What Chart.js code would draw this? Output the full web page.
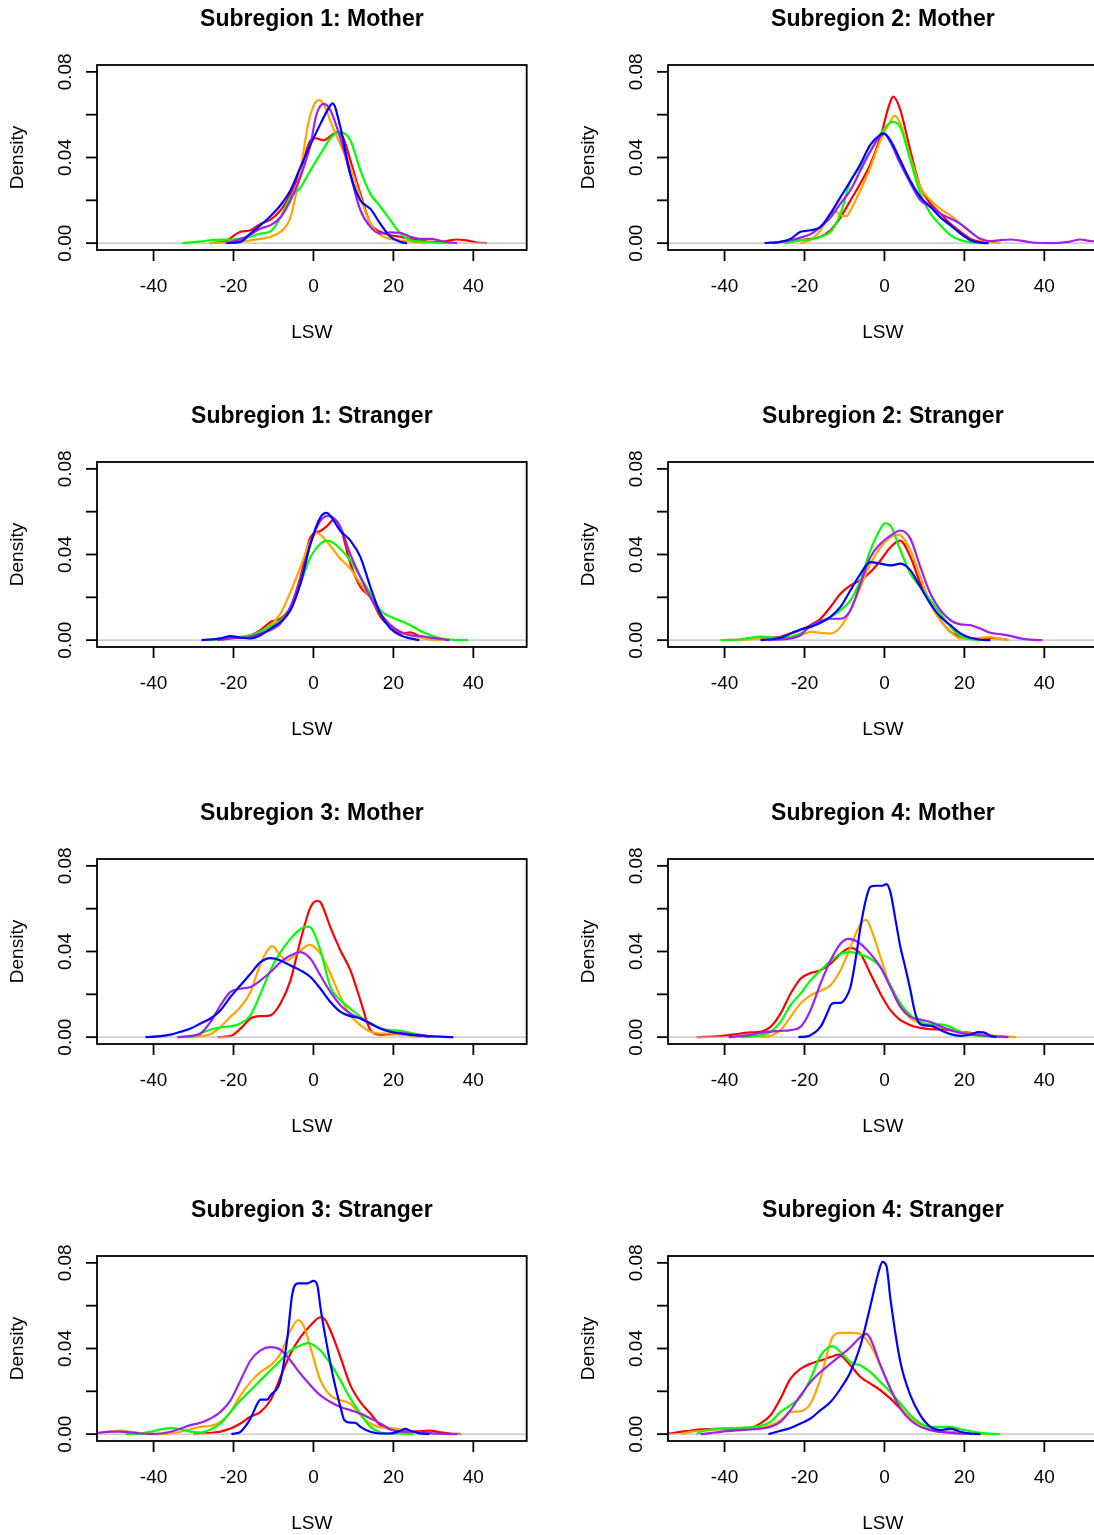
<!DOCTYPE html>
<html lang="en">
<head>
<meta charset="UTF-8">
<script src="https://cdn.jsdelivr.net/npm/chart.js"></script>
<title>LSW densities by subregion</title>
<style>
  body { margin: 0; background: #fff; }
  #page { position: relative; width: 1094px; height: 1535px; overflow: hidden; background: #fff; }
  #page canvas { position: absolute; }
</style>
</head>
<body>
<div id="page"></div>
<script>
// panel titles, row by row (left, right)
const panelTitles = [
    'Subregion 1: Mother', 'Subregion 2: Mother',
    'Subregion 1: Stranger', 'Subregion 2: Stranger',
    'Subregion 3: Mother', 'Subregion 4: Mother',
    'Subregion 3: Stranger', 'Subregion 4: Stranger'
];
const seriesNames = ['red', 'orange', 'green', 'purple', 'blue'];
const seriesColors = ['#FF0000', '#FFA500', '#00FF00', '#A020F0', '#0000FF'];
const xTicks = [-40, -20, 0, 20, 40];
const yTicks = [0, 0.02, 0.04, 0.06, 0.08];
const yTickLabels = ['0.00', '', '0.04', '', '0.08'];
const xLimits = [-54.15, 53.35];
const yLimits = [-0.0032, 0.0832];

// density curves, [LSW, density] pairs

// Subregion 1: Mother
const s1mRed = [[-25.7,0],[-22,0.001],[-18.25,0.0053],[-15.75,0.006],[-13.25,0.009],[-10.75,0.011],[-8.25,0.0153],[-5.75,0.023],[-3.25,0.034],[-0.75,0.048],[0.5,0.049],[2.5,0.048],[4.25,0.050],[6,0.052],[7.5,0.049],[9.25,0.0386],[11.75,0.023],[14.25,0.009],[16.75,0.0053],[19.25,0.0037],[21.75,0.003],[24.25,0.002],[27,0.0012],[30,0.0006],[33,0.0009],[35.9,0.0017],[38.5,0.0012],[41,0.0003],[43.4,0]];
const s1mOrange = [[-26,0],[-20,0.0005],[-15,0.0015],[-10.75,0.003],[-8.25,0.0053],[-5.75,0.012],[-3.25,0.034],[-1.5,0.054],[-0.75,0.060],[0.5,0.0657],[1.6,0.0668],[3,0.063],[4.25,0.057],[6.75,0.046],[9.25,0.0355],[11.75,0.0215],[14.25,0.009],[16.75,0.0037],[19.25,0.002],[24,0.0008],[28,0]];
const s1mGreen = [[-32.8,0],[-28,0.0008],[-25,0.0015],[-20,0.0018],[-15.75,0.003],[-13.25,0.0045],[-10.75,0.0055],[-8.25,0.012],[-5.75,0.0215],[-3.25,0.026],[-0.75,0.034],[1.75,0.0417],[4.25,0.049],[6.3,0.052],[7.5,0.0515],[9.25,0.048],[11.75,0.034],[14.25,0.023],[16.75,0.017],[19.25,0.0107],[21.75,0.0045],[24.25,0.0014],[26.75,0.0008],[30,0.0004],[35,0]];
const s1mPurple = [[-22,0],[-18,0.002],[-15.75,0.004],[-13.25,0.0068],[-10.75,0.0084],[-8.25,0.012],[-5.75,0.020],[-3.25,0.031],[-0.75,0.046],[0.75,0.060],[2.6,0.065],[4.25,0.062],[6.75,0.049],[9.25,0.032],[11.75,0.0153],[14.25,0.0076],[16.75,0.0045],[19.25,0.005],[21.75,0.0048],[24.25,0.003],[26.75,0.002],[29.25,0.002],[32,0.001],[35.9,0]];
const s1mBlue = [[-21.6,0],[-18.25,0.0006],[-15.75,0.0045],[-13.25,0.0084],[-10.75,0.0126],[-8.25,0.0177],[-5.75,0.0247],[-3.25,0.0355],[-0.75,0.046],[1.75,0.0557],[3.5,0.062],[4.8,0.0653],[6.75,0.054],[9.25,0.032],[11.75,0.020],[14.25,0.016],[16.75,0.009],[19.25,0.003],[21.75,0.0006],[23.4,0]];

// Subregion 2: Mother
const s2mRed = [[-25,0],[-21,0.0014],[-18.5,0.002],[-16,0.003],[-13.5,0.006],[-11,0.012],[-8.5,0.020],[-6,0.028],[-3.5,0.037],[-1,0.0495],[1,0.0634],[2.2,0.0684],[4,0.062],[6.5,0.043],[9,0.026],[11.5,0.0185],[14,0.0138],[16.5,0.009],[19,0.0053],[21.5,0.002],[24,0.0006],[26,0]];
const s2mOrange = [[-21,0],[-18.5,0.0014],[-16,0.006],[-13.5,0.0138],[-12,0.0146],[-11,0.013],[-9.5,0.0126],[-8.5,0.0153],[-6,0.0247],[-3.5,0.0355],[-1,0.048],[1.5,0.057],[2.5,0.0595],[4,0.0557],[6.5,0.040],[9,0.026],[11.5,0.020],[14,0.016],[16.5,0.013],[19,0.009],[21.5,0.0053],[24,0.0019],[26.5,0.0006],[29,0]];
const s2mGreen = [[-25,0],[-21,0.0014],[-18.5,0.0017],[-16,0.003],[-13.5,0.0053],[-11,0.0138],[-8.5,0.029],[-6,0.0355],[-3.5,0.043],[-1,0.051],[1.5,0.0564],[2,0.0566],[4,0.054],[6.5,0.0386],[9,0.023],[11.5,0.0138],[14,0.0084],[16.5,0.0037],[19,0.0014],[21.5,0.0004],[24,0]];
const s2mPurple = [[-28,0],[-23.5,0.0014],[-21,0.0026],[-18.5,0.0042],[-16,0.0076],[-13.5,0.012],[-11,0.0185],[-8.5,0.0247],[-6,0.034],[-3.5,0.043],[-1,0.050],[0,0.051],[1.5,0.047],[4,0.037],[6.5,0.028],[9,0.020],[11.5,0.017],[14,0.0138],[16.5,0.0115],[19,0.009],[21.5,0.0053],[24,0.002],[26.5,0.0009],[29,0.0014],[31.5,0.0017],[34,0.0012],[37,0.0003],[42,0],[46,0.0006],[49,0.0017],[51.5,0.001],[56,0.0003]];
const s2mBlue = [[-30,0],[-28.5,0.0002],[-26,0.0006],[-23.5,0.002],[-21,0.0053],[-18.5,0.006],[-16,0.0076],[-13.5,0.0138],[-11,0.0215],[-8.5,0.029],[-6,0.037],[-3.5,0.046],[-1,0.0507],[-0.2,0.0513],[1.5,0.048],[4,0.0386],[6.5,0.029],[9,0.0215],[11.5,0.017],[14,0.012],[16.5,0.0084],[19,0.0045],[21.5,0.0014],[24,0.0002],[26,0]];

// Subregion 1: Stranger
const s1sRed = [[-24,0],[-20.75,0.0011],[-15.75,0.0023],[-13.25,0.0047],[-10.75,0.0085],[-8.25,0.010],[-5.75,0.0155],[-3.25,0.0295],[-0.75,0.048],[1.75,0.051],[3.5,0.0535],[5.1,0.0563],[6.75,0.0527],[9.25,0.0357],[11.75,0.0248],[14.25,0.020],[16.75,0.0109],[19.25,0.0062],[21.75,0.0031],[24.25,0.0036],[26.75,0.0016],[29.25,0.0003],[31,0]];
const s1sOrange = [[-27,0],[-20.75,0.0008],[-15.75,0.0023],[-13.25,0.0039],[-10.75,0.007],[-8.25,0.0124],[-5.75,0.0225],[-3.25,0.0341],[-0.75,0.0465],[0.9,0.050],[3.5,0.0457],[6.75,0.038],[9.25,0.0333],[11.75,0.0264],[14.25,0.020],[16.75,0.0124],[19.25,0.007],[21.75,0.0039],[24.25,0.0023],[26.75,0.0012],[29.25,0.0005],[32,0]];
const s1sGreen = [[-26,0],[-20.75,0.0008],[-15.75,0.0023],[-13.25,0.0039],[-10.75,0.0065],[-8.25,0.0093],[-5.75,0.0147],[-3.25,0.0264],[-0.75,0.0388],[1.75,0.045],[3.3,0.0465],[4.25,0.0462],[6.75,0.0426],[9.25,0.0372],[11.75,0.0295],[14.25,0.0217],[16.75,0.014],[19.25,0.0109],[21.75,0.009],[24.25,0.007],[26.75,0.0043],[29.25,0.0023],[31.75,0.0009],[34.25,0.0003],[38.7,0]];
const s1sPurple = [[-24,0],[-20.75,0.0008],[-15.75,0.0016],[-13.25,0.0031],[-10.75,0.0047],[-8.25,0.0078],[-5.75,0.0155],[-3.25,0.028],[-0.75,0.045],[1.75,0.0558],[3.8,0.058],[6.75,0.0527],[9.25,0.040],[11.75,0.0295],[14.25,0.020],[16.75,0.0124],[19.25,0.007],[21.75,0.0039],[24.25,0.0023],[26.75,0.0019],[29.25,0.0012],[32,0.0005],[34,0]];
const s1sBlue = [[-28,0],[-23.25,0.0008],[-20.75,0.0019],[-18.25,0.0012],[-15.75,0.0008],[-13.25,0.0023],[-10.75,0.0054],[-8.25,0.0085],[-5.75,0.014],[-3.25,0.0264],[-0.75,0.045],[1.75,0.0574],[3.3,0.0594],[4.25,0.058],[6.75,0.051],[9.25,0.0465],[11.75,0.0388],[14.25,0.0248],[16.75,0.0124],[19.25,0.0054],[21.75,0.0023],[24.25,0.0008],[26.5,0]];

// Subregion 2: Stranger
const s2sRed = [[-40,0],[-36,0.0003],[-31,0.0011],[-26,0.0016],[-23.5,0.0031],[-21,0.0047],[-18.5,0.007],[-16,0.010],[-13.5,0.0155],[-11,0.0217],[-8.5,0.0256],[-6,0.028],[-3.5,0.0318],[-1,0.0372],[1.5,0.0434],[3.9,0.0465],[6.5,0.0388],[9,0.0264],[11.5,0.017],[14,0.0093],[16.5,0.0039],[19,0.0016],[21.5,0.0006],[24,0.0006],[26,0.0011],[29,0.0006],[31,0]];
const s2sOrange = [[-37,0],[-31,0.0008],[-26,0.0012],[-21,0.0023],[-18.5,0.0039],[-16,0.0034],[-13.5,0.0031],[-11,0.0062],[-8.5,0.014],[-6,0.0248],[-3.5,0.0357],[-1,0.0434],[1.5,0.048],[3.5,0.0493],[6.5,0.042],[9,0.0295],[11.5,0.017],[14,0.0093],[16.5,0.0039],[19,0.0008],[21.5,0.0006],[24,0.0011],[26.5,0.0014],[29,0.0006],[31,0]];
const s2sGreen = [[-41,0],[-36,0.0003],[-31,0.0016],[-26,0.0011],[-21,0.0031],[-18.5,0.0062],[-16,0.0085],[-13.5,0.0109],[-11,0.014],[-8.5,0.0186],[-6,0.028],[-3.5,0.042],[-1,0.052],[0.1,0.0546],[1.5,0.0535],[4,0.042],[6.5,0.031],[9,0.0248],[11.5,0.0186],[14,0.0124],[16.5,0.0062],[19,0.0019],[21.5,0.0005],[24,0]];
const s2sPurple = [[-29,0],[-26,0.0003],[-23.5,0.0008],[-21,0.0023],[-18.5,0.007],[-16,0.009],[-13.5,0.010],[-11,0.010],[-8.5,0.014],[-6,0.0264],[-3.5,0.0388],[-1,0.045],[1.5,0.0488],[4,0.0512],[6.5,0.0473],[9,0.0341],[11.5,0.0217],[14,0.014],[16.5,0.0093],[19,0.0074],[21.5,0.007],[24,0.0054],[26.5,0.0034],[29,0.0028],[31.5,0.002],[34,0.0008],[36.5,0.0002],[39.5,0]];
const s2sBlue = [[-31,0],[-26,0.0011],[-23.5,0.0031],[-21,0.005],[-18.5,0.0062],[-16,0.0081],[-13.5,0.0109],[-11,0.0155],[-8.5,0.0233],[-6,0.031],[-3.5,0.0364],[-1,0.0357],[1.5,0.0349],[4,0.0357],[6.5,0.0326],[9,0.0248],[11.5,0.017],[14,0.0109],[16.5,0.007],[19,0.0031],[21.5,0.0011],[24,0.0002],[26.5,0]];

// Subregion 3: Mother
const s3mRed = [[-24,0],[-20.75,0.0005],[-18.25,0.004],[-15.75,0.0087],[-13.25,0.0098],[-10.75,0.0102],[-8.25,0.0157],[-5.75,0.0265],[-3.25,0.0451],[-0.75,0.0606],[0.9,0.0637],[1.75,0.063],[4.25,0.0513],[6.75,0.0405],[9.25,0.0312],[11.75,0.0172],[14.25,0.0033],[16.75,0.0012],[19.25,0.0014],[21.75,0.0014],[24.25,0.0014],[26.75,0.0011],[29,0.0002],[30,0]];
const s3mOrange = [[-34,0],[-28.25,0.0005],[-25.75,0.0014],[-23.25,0.0048],[-20.75,0.0095],[-18.25,0.0141],[-15.75,0.0211],[-13.25,0.0343],[-11.5,0.0405],[-10.3,0.0425],[-8.25,0.0381],[-6.5,0.0358],[-5.75,0.0366],[-3.25,0.0405],[-1,0.0431],[1.75,0.0389],[4.25,0.0296],[6.75,0.0188],[9.25,0.0102],[11.75,0.0056],[14.25,0.0025],[16.75,0.0017],[19.25,0.0017],[21.75,0.0014],[24.25,0.0008],[27,0]];
const s3mGreen = [[-32,0],[-30.75,0.0001],[-28.25,0.0017],[-25.75,0.0036],[-23.25,0.0045],[-20.75,0.0051],[-18.25,0.0064],[-15.75,0.0102],[-13.25,0.0203],[-10.75,0.0312],[-8.25,0.0397],[-5.75,0.0459],[-3.25,0.0505],[-1.5,0.0516],[-0.75,0.0513],[1.75,0.0405],[4.25,0.0234],[6.75,0.0172],[9.25,0.0133],[11.75,0.0095],[14.25,0.0064],[16.75,0.004],[19.25,0.0033],[21.75,0.003],[24.25,0.002],[26.75,0.0009],[29,0]];
const s3mPurple = [[-34,0],[-30.75,0.0006],[-28.25,0.0017],[-25.75,0.0071],[-23.25,0.0149],[-20.75,0.0211],[-18.25,0.0226],[-15.75,0.0234],[-13.25,0.0265],[-10.75,0.0304],[-8.25,0.035],[-5.75,0.0381],[-3.25,0.0397],[-0.75,0.0366],[1.75,0.0288],[4.25,0.0211],[6.75,0.0149],[9.25,0.011],[11.75,0.0087],[14.25,0.0064],[16.75,0.004],[19.25,0.0025],[21.75,0.002],[24.25,0.0014],[26.75,0.0008],[29,0]];
const s3mBlue = [[-42,0],[-38.25,0.0005],[-35.75,0.0012],[-33.25,0.0025],[-30.75,0.004],[-28.25,0.0064],[-25.75,0.0087],[-23.25,0.0126],[-20.75,0.0188],[-18.25,0.0242],[-15.75,0.0296],[-13.25,0.035],[-10.75,0.0369],[-8.25,0.0358],[-5.75,0.0335],[-3.25,0.0312],[-0.75,0.0281],[1.75,0.0226],[4.25,0.0164],[6.75,0.0118],[9.25,0.0098],[11.75,0.0087],[14.25,0.0064],[16.75,0.004],[19.25,0.0025],[21.75,0.0017],[24.25,0.0011],[29,0.0005],[35,0]];

// Subregion 4: Mother
const s4mRed = [[-47,0],[-41,0.0005],[-36,0.0017],[-33.5,0.0022],[-31,0.0025],[-28.5,0.0048],[-26,0.011],[-23.5,0.0203],[-21,0.0273],[-18.5,0.0299],[-16,0.0312],[-13.5,0.0343],[-11,0.0389],[-8.5,0.0417],[-6,0.0389],[-3.5,0.0296],[-1,0.0203],[1.5,0.0126],[4,0.0079],[6.5,0.0056],[9,0.0043],[11.5,0.0037],[14,0.0036],[16.5,0.0033],[19,0.0025],[21.5,0.002],[24,0.0012],[26.5,0.0006],[30,0]];
const s4mOrange = [[-31,0],[-28.5,0.0006],[-26,0.0033],[-23.5,0.0095],[-21,0.0157],[-18.5,0.0195],[-16,0.0216],[-13.5,0.0242],[-11,0.0312],[-8.5,0.042],[-6,0.0529],[-4.5,0.0547],[-3.5,0.0513],[-1,0.0374],[1.5,0.0234],[4,0.0141],[6.5,0.0087],[9,0.0064],[11.5,0.0051],[14,0.0045],[16.5,0.0036],[19,0.0025],[21.5,0.0017],[24,0.0012],[26.5,0.0008],[33,0]];
const s4mGreen = [[-36,0],[-31,0.0008],[-28.5,0.0025],[-26,0.0071],[-23.5,0.0149],[-21,0.0203],[-18.5,0.0265],[-16,0.0312],[-13.5,0.0355],[-11,0.0389],[-8.5,0.0397],[-6,0.0386],[-3.5,0.0366],[-1,0.0327],[1.5,0.0242],[4,0.0157],[6.5,0.0102],[9,0.0071],[11.5,0.006],[14,0.006],[16.5,0.0048],[19,0.0025],[21.5,0.0012],[24,0.0006],[29,0]];
const s4mPurple = [[-39,0],[-36,0.0005],[-33.5,0.0011],[-31,0.002],[-28.5,0.0026],[-26,0.0029],[-23.5,0.0033],[-21,0.0048],[-18.5,0.0126],[-16,0.025],[-13.5,0.0358],[-11,0.0436],[-9,0.0459],[-6,0.0436],[-3.5,0.0389],[-1,0.0327],[1.5,0.0234],[4,0.0141],[6.5,0.0095],[9,0.0082],[11.5,0.0071],[14,0.0051],[16.5,0.0033],[19,0.002],[21.5,0.0014],[24,0.0009],[31,0]];
const s4mBlue = [[-21.5,0],[-19,0.0005],[-18.5,0.0009],[-16,0.0048],[-14,0.0126],[-13.5,0.0149],[-12.5,0.016],[-11,0.016],[-9.8,0.018],[-8.5,0.0234],[-7,0.0389],[-6,0.0513],[-4.5,0.0653],[-3.5,0.0702],[-2,0.0707],[-0.5,0.0707],[0.5,0.0715],[1.5,0.0676],[2.8,0.0544],[4,0.042],[5.2,0.0327],[6.5,0.0219],[7.5,0.0126],[8.5,0.0071],[9.5,0.0056],[11.5,0.0053],[12.5,0.0048],[14,0.0033],[16.5,0.0014],[19,0.0006],[21.5,0.0011],[23.5,0.0023],[24.8,0.0022],[26.5,0.0006],[28,0]];

// Subregion 3: Stranger
const s3sRed = [[-30,0],[-28.25,0.0003],[-25.75,0.0006],[-23.25,0.0012],[-20.75,0.0026],[-18.25,0.005],[-15.75,0.0081],[-13.25,0.0104],[-10.75,0.0158],[-8.25,0.0267],[-5.75,0.0375],[-3.25,0.0453],[-0.75,0.0507],[1.75,0.0546],[2.5,0.0543],[4.25,0.0484],[6.75,0.036],[9.25,0.0228],[11.75,0.015],[14.25,0.0096],[16.75,0.0042],[19.25,0.0023],[21.75,0.0014],[24.25,0.0011],[26.75,0.0014],[29.25,0.0016],[31.75,0.0008],[34.25,0.0003],[37,0]];
const s3sOrange = [[-56,0.0006],[-54,0.0006],[-50.75,0.0012],[-48.25,0.0016],[-45.75,0.0011],[-43.25,0.0005],[-40.75,0],[-38.25,0],[-35.75,0.0003],[-33.25,0.0011],[-30.75,0.0023],[-28.25,0.0034],[-25.75,0.0039],[-23.25,0.0057],[-20.75,0.0104],[-18.25,0.0181],[-15.75,0.0243],[-13.25,0.029],[-10.75,0.0321],[-8.25,0.0375],[-5.75,0.0484],[-3.8,0.0533],[-2.5,0.0507],[-0.75,0.0406],[1.75,0.0251],[4.25,0.0181],[6.75,0.0158],[9.25,0.0143],[11.75,0.0088],[14.25,0.005],[16.75,0.0031],[19.25,0.0028],[21.75,0.0022],[24.25,0.0011],[26.75,0.0003],[29,0]];
const s3sGreen = [[-47,0],[-43.25,0.0003],[-40.75,0.0011],[-38.25,0.0022],[-35.75,0.0028],[-33.25,0.0023],[-30.75,0.0012],[-28.25,0.0008],[-25.75,0.0022],[-23.25,0.005],[-20.75,0.0104],[-18.25,0.0158],[-15.75,0.0205],[-13.25,0.0251],[-10.75,0.0298],[-8.25,0.0344],[-5.75,0.0391],[-3.25,0.0414],[-1.5,0.0425],[-0.75,0.0423],[1.75,0.0391],[4.25,0.0329],[6.75,0.0251],[9.25,0.0166],[11.75,0.0096],[14.25,0.0034],[16.75,0.0008],[19.25,0.0003],[21.75,0.0003],[25,0]];
const s3sPurple = [[-56,0.0005],[-54,0.0006],[-50.75,0.0012],[-48.25,0.0012],[-45.75,0.0008],[-43.25,0.0003],[-40.75,0.0001],[-38.25,0.0003],[-35.75,0.0011],[-33.25,0.0026],[-30.75,0.0042],[-28.25,0.0053],[-25.75,0.0073],[-23.25,0.0104],[-20.75,0.0158],[-18.25,0.0251],[-15.75,0.0344],[-13.25,0.0391],[-10.75,0.0406],[-8.25,0.0394],[-5.75,0.0344],[-3.25,0.0282],[-0.75,0.0228],[1.75,0.0181],[4.25,0.015],[6.75,0.0127],[9.25,0.0112],[11.75,0.0096],[14.25,0.0073],[16.75,0.005],[19.25,0.0022],[21.75,0.0012],[24.25,0.0012],[26.75,0.0009],[29.25,0.0005],[31.75,0.0002],[36,0]];
const s3sBlue = [[-20.5,0],[-18.25,0.0011],[-16.5,0.005],[-15.75,0.0073],[-14,0.0143],[-13.25,0.0161],[-11.5,0.0161],[-10.75,0.0181],[-8.25,0.0251],[-6.5,0.0453],[-5.3,0.0654],[-3.8,0.0704],[-1.5,0.0704],[0,0.0716],[1,0.0693],[1.75,0.0592],[3,0.0453],[4.25,0.0329],[5.5,0.022],[6.75,0.0127],[7.75,0.0065],[9.25,0.0054],[10.5,0.0053],[11.75,0.0034],[14.25,0.0011],[16.75,0.0003],[19.25,0.0003],[21.75,0.0016],[23,0.0025],[24.25,0.0016],[26.75,0.0003],[29,0]];

// Subregion 4: Stranger
const s4sRed = [[-56,0.0002],[-54,0.0003],[-51,0.0011],[-48.5,0.0016],[-46,0.0022],[-43.5,0.0023],[-41,0.0023],[-38.5,0.0023],[-36,0.0023],[-33.5,0.0029],[-31,0.005],[-28.5,0.0088],[-26,0.0166],[-23.5,0.0259],[-21,0.0305],[-18.5,0.0329],[-16,0.0344],[-13.5,0.036],[-11.5,0.0371],[-8.5,0.0321],[-6,0.0267],[-3.5,0.0236],[-1,0.0205],[1.5,0.0166],[4,0.0119],[6.5,0.0073],[9,0.0042],[11.5,0.0019],[14,0.0011],[16.5,0.0011],[19,0.0006],[23,0]];
const s4sOrange = [[-51,0],[-48.5,0.0011],[-43.5,0.0019],[-41,0.0026],[-36,0.0029],[-31,0.0029],[-28.5,0.0042],[-26,0.0065],[-23.5,0.0104],[-21,0.0107],[-18.5,0.0143],[-16,0.0259],[-14,0.0398],[-13,0.0453],[-11,0.0473],[-8.5,0.0473],[-6,0.0468],[-3.5,0.0414],[-1,0.0321],[1.5,0.0212],[4,0.0127],[6.5,0.0073],[9,0.0042],[11.5,0.0019],[14,0.0014],[16.5,0.0011],[19,0.0006],[26,0]];
const s4sGreen = [[-47,0],[-46,0.0011],[-43.5,0.0023],[-41,0.0026],[-36,0.0029],[-31,0.0039],[-28.5,0.0057],[-26,0.0104],[-23.5,0.0135],[-21,0.0174],[-18.5,0.0259],[-16,0.0367],[-14,0.0406],[-13,0.0411],[-11,0.0383],[-8.5,0.0336],[-6,0.0321],[-3.5,0.029],[-1,0.0243],[1.5,0.0197],[4,0.0143],[6.5,0.0088],[9,0.005],[11.5,0.0034],[14,0.0034],[16.5,0.0034],[19,0.0023],[21.5,0.0014],[24,0.0006],[29,0]];
const s4sPurple = [[-46,0],[-43.5,0.0005],[-41,0.0011],[-36,0.0019],[-31,0.0026],[-28.5,0.0034],[-26,0.0057],[-23.5,0.0112],[-21,0.0181],[-18.5,0.0243],[-16,0.029],[-13.5,0.0329],[-11,0.0367],[-8.5,0.0406],[-6,0.0453],[-4.5,0.0468],[-3.5,0.0445],[-1,0.0321],[1.5,0.0212],[4,0.0119],[6.5,0.0065],[9,0.0034],[11.5,0.0019],[14,0.0011],[16.5,0.0006],[22,0]];
const s4sBlue = [[-29,0],[-26,0.0016],[-23.5,0.0029],[-21,0.005],[-18.5,0.0073],[-16,0.0112],[-13.5,0.015],[-11,0.0212],[-8.5,0.029],[-6,0.0414],[-3.5,0.06],[-1.5,0.0755],[-0.5,0.0805],[0.5,0.0786],[1.5,0.0631],[4,0.0336],[6.5,0.0181],[9,0.0088],[11.5,0.0034],[14,0.0019],[16.5,0.0026],[19,0.0011],[21.5,0.0003],[24,0]];

// curves per panel, same order as seriesNames
const panelCurves = [
    [s1mRed, s1mOrange, s1mGreen, s1mPurple, s1mBlue],
    [s2mRed, s2mOrange, s2mGreen, s2mPurple, s2mBlue],
    [s1sRed, s1sOrange, s1sGreen, s1sPurple, s1sBlue],
    [s2sRed, s2sOrange, s2sGreen, s2sPurple, s2sBlue],
    [s3mRed, s3mOrange, s3mGreen, s3mPurple, s3mBlue],
    [s4mRed, s4mOrange, s4mGreen, s4mPurple, s4mBlue],
    [s3sRed, s3sOrange, s3sGreen, s3sPurple, s3sBlue],
    [s4sRed, s4sOrange, s4sGreen, s4sPurple, s4sBlue]
];

const FONT = "'Liberation Sans', Arial, Helvetica, sans-serif";
const PANEL_W = 571, PANEL_H = 397;

// base-graphics look: box, outward ticks, rotated y labels, grey zero line
const rAxes = {
    id: 'rAxes',
    afterDatasetDraw(chart, args) {
        // zero line comes right after the first curve (red), under the rest
        if (args.index !== chart.data.datasets.length - 1) return;
        const { ctx, chartArea: a, scales: { y } } = chart;
        const y0 = y.getPixelForValue(0);
        ctx.save();
        ctx.strokeStyle = '#BEBEBE';
        ctx.lineWidth = 1.3;
        ctx.beginPath();
        ctx.moveTo(a.left, y0);
        ctx.lineTo(a.right, y0);
        ctx.stroke();
        ctx.restore();
    },
    afterDraw(chart, args, opts) {
        const { ctx, chartArea: a, scales: { x, y } } = chart;
        const cx = (a.left + a.right) / 2;
        const cy = (a.top + a.bottom) / 2;
        ctx.save();
        ctx.strokeStyle = '#000';
        ctx.fillStyle = '#000';
        ctx.lineWidth = 1.8;
        ctx.strokeRect(a.left, a.top, a.right - a.left, a.bottom - a.top);

        ctx.font = '19px ' + FONT;
        ctx.textAlign = 'center';
        ctx.textBaseline = 'alphabetic';
        xTicks.forEach(t => {
            const px = x.getPixelForValue(t);
            ctx.beginPath();
            ctx.moveTo(px, a.bottom);
            ctx.lineTo(px, a.bottom + 11);
            ctx.stroke();
            ctx.fillText(String(t), px, a.bottom + 42);
        });
        yTicks.forEach((v, i) => {
            const py = y.getPixelForValue(v);
            ctx.beginPath();
            ctx.moveTo(a.left, py);
            ctx.lineTo(a.left - 11, py);
            ctx.stroke();
            if (yTickLabels[i]) {
                ctx.save();
                ctx.translate(a.left - 26.5, py);
                ctx.rotate(-Math.PI / 2);
                ctx.fillText(yTickLabels[i], 0, 0);
                ctx.restore();
            }
        });

        ctx.fillText('LSW', cx, a.bottom + 88);
        ctx.save();
        ctx.translate(23, cy);
        ctx.rotate(-Math.PI / 2);
        ctx.fillText('Density', 0, 0);
        ctx.restore();

        ctx.font = 'bold 23px ' + FONT;
        ctx.fillText(opts.title, cx, 26);
        ctx.restore();
    }
};

const page = document.getElementById('page');

panelTitles.forEach((title, p) => {
    const canvas = document.createElement('canvas');
    canvas.width = PANEL_W;
    canvas.height = PANEL_H;
    canvas.style.left = (p % 2) * PANEL_W + 'px';
    canvas.style.top = Math.floor(p / 2) * PANEL_H + 'px';
    page.appendChild(canvas);

    // reversed so red is painted first and blue ends on top
    const datasets = seriesNames.map((name, s) => ({
        label: name,
        data: panelCurves[p][s].map(pt => ({ x: pt[0], y: pt[1] })),
        borderColor: seriesColors[s],
        borderWidth: 2.2,
        pointRadius: 0,
        fill: false,
        cubicInterpolationMode: 'monotone'
    })).reverse();

    new Chart(canvas, {
        type: 'line',
        data: { datasets: datasets },
        options: {
            responsive: false,
            animation: false,
            events: [],
            layout: { padding: { left: 97, top: 65, right: 44.3, bottom: 147 } },
            scales: {
                x: { type: 'linear', min: xLimits[0], max: xLimits[1], display: false },
                y: { type: 'linear', min: yLimits[0], max: yLimits[1], display: false }
            },
            plugins: {
                legend: { display: false },
                tooltip: { enabled: false },
                rAxes: { title: title }
            }
        },
        plugins: [rAxes]
    });
});
</script>
</body>
</html>
